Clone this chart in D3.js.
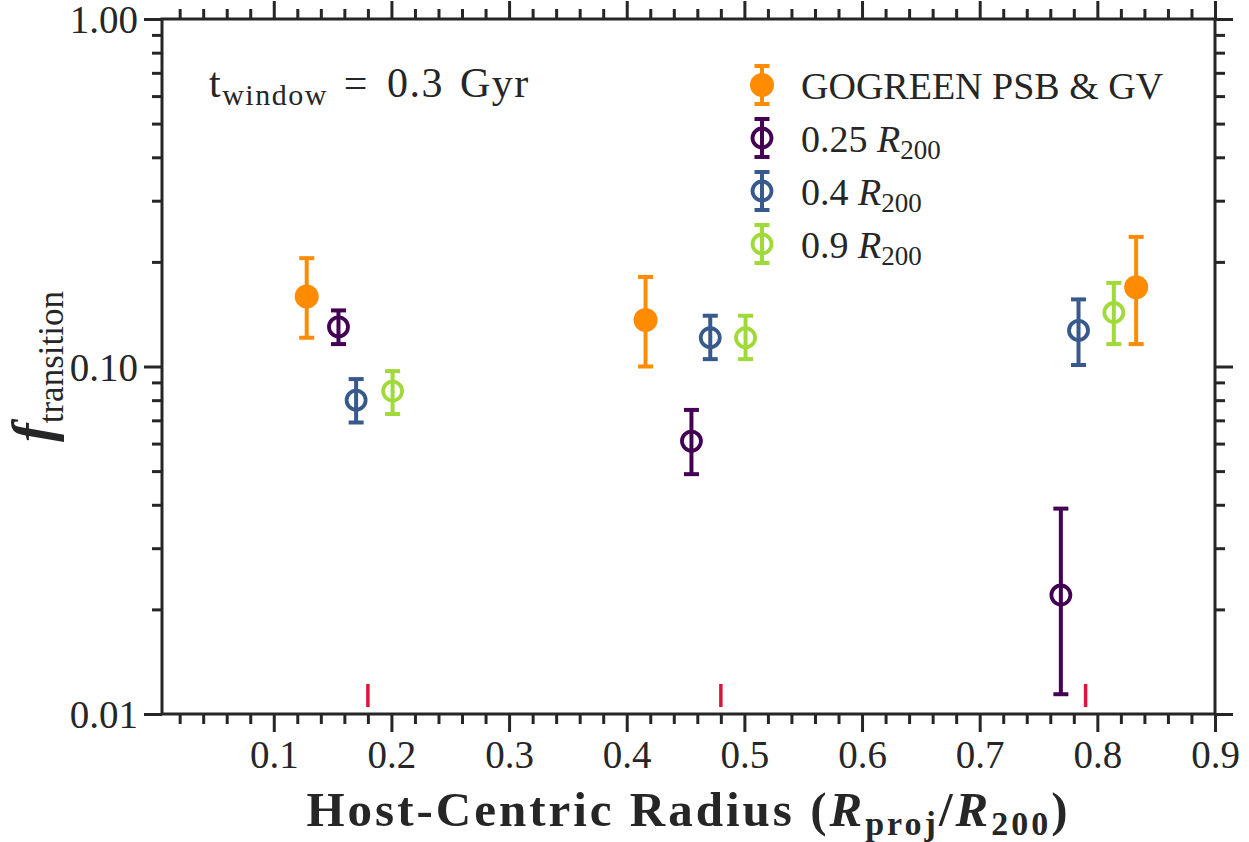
<!DOCTYPE html>
<html>
<head>
<meta charset="utf-8">
<script src="https://cdn.jsdelivr.net/npm/d3@7"></script>
</head>
<body style="margin:0">
<div id="chart"></div>
<script>
// séries: [x, y, erro inferior, erro superior]
const gogreen = [
  [0.128, 0.159, 0.121, 0.205],
  [0.416, 0.136, 0.100, 0.181],
  [0.833, 0.169, 0.116, 0.236]
];
const r025 = [
  [0.155, 0.130, 0.116, 0.145],
  [0.455, 0.061, 0.049, 0.075],
  [0.769, 0.022, 0.0114, 0.039]
];
const r04 = [
  [0.170, 0.080, 0.069, 0.092],
  [0.471, 0.121, 0.105, 0.140],
  [0.784, 0.127, 0.101, 0.156]
];
const r09 = [
  [0.201, 0.085, 0.073, 0.097],
  [0.501, 0.121, 0.105, 0.140],
  [0.814, 0.143, 0.116, 0.174]
];
const radialMarks = [0.18, 0.48, 0.79];
const xMajorTicks = [0.1, 0.2, 0.3, 0.4, 0.5, 0.6, 0.7, 0.8, 0.9];
const yMajorTicks = [0.01, 0.1, 1];
const legendLabels = ["GOGREEN PSB & GV", "0.25", "0.4", "0.9"];

const width = 1249, height = 842;
const margin = { top: 19, right: 34, bottom: 128, left: 162 };
const innerWidth = width - margin.left - margin.right;
const innerHeight = height - margin.top - margin.bottom;
const fontName = "Liberation Serif";
const ink = "#262626";

const svg = d3.select("#chart").append("svg")
  .attr("width", width)
  .attr("height", height);

const x = d3.scaleLinear().domain([0.005, 0.9]).range([margin.left, width - margin.right]);
const y = d3.scaleLog().domain([0.01, 1]).range([height - margin.bottom, margin.top]);

// ticks menores de 0.02 em 0.02, sem os maiores
const xMinor = d3.range(1, 45).map(i => i * 0.02).filter(v => v < 0.9 && Math.round(v * 100) % 10 !== 0);
const yMinor = [];
[0.01, 0.1].forEach(d => { for (let k = 2; k <= 9; k++) yMinor.push(d * k); });

function setFont(sel, size) {
  return sel.attr("fill", ink).style("font-family", () => `"${fontName}"`).style("font-size", size + "px");
}
function styleAxis(g) {
  g.select(".domain").remove();
  g.selectAll("line").attr("stroke", ink).attr("stroke-width", 3);
}
function noText(g) { g.selectAll("text").remove(); }

// ticks menores
svg.append("g").attr("transform", `translate(0,${height - margin.bottom})`)
  .call(d3.axisBottom(x).tickValues(xMinor).tickSize(10)).call(styleAxis).call(noText);
svg.append("g").attr("transform", `translate(0,${margin.top})`)
  .call(d3.axisTop(x).tickValues(xMinor).tickSize(10)).call(styleAxis).call(noText);
svg.append("g").attr("transform", `translate(${margin.left},0)`)
  .call(d3.axisLeft(y).tickValues(yMinor).tickSize(10)).call(styleAxis).call(noText);
svg.append("g").attr("transform", `translate(${width - margin.right},0)`)
  .call(d3.axisRight(y).tickValues(yMinor).tickSize(10)).call(styleAxis).call(noText);

// ticks maiores
const xAxisG = svg.append("g").attr("transform", `translate(0,${height - margin.bottom})`)
  .call(d3.axisBottom(x).tickValues(xMajorTicks).tickSize(18).tickPadding(8).tickFormat(d3.format(".1f")))
  .call(styleAxis);
xAxisG.attr("font-family", null);
setFont(xAxisG.selectAll("text"), 39).attr("dy", "0.72em");

svg.append("g").attr("transform", `translate(0,${margin.top})`)
  .call(d3.axisTop(x).tickValues(xMajorTicks).tickSize(18)).call(styleAxis).call(noText);

const yAxisG = svg.append("g").attr("transform", `translate(${margin.left},0)`)
  .call(d3.axisLeft(y).tickValues(yMajorTicks).tickSize(18).tickPadding(6).tickFormat(d3.format(".2f")))
  .call(styleAxis);
yAxisG.attr("font-family", null);
setFont(yAxisG.selectAll("text"), 39).attr("dy", "0.35em");

svg.append("g").attr("transform", `translate(${width - margin.right},0)`)
  .call(d3.axisRight(y).tickValues(yMajorTicks).tickSize(18)).call(styleAxis).call(noText);

// moldura
svg.append("rect")
  .attr("x", margin.left).attr("y", margin.top)
  .attr("width", innerWidth).attr("height", innerHeight)
  .attr("fill", "none").attr("stroke", ink).attr("stroke-width", 3);

// marcas vermelhas junto ao eixo
svg.selectAll(".rmark").data(radialMarks).enter().append("line")
  .attr("x1", d => x(d)).attr("x2", d => x(d))
  .attr("y1", height - margin.bottom - 7).attr("y2", height - margin.bottom - 30)
  .attr("stroke", "#dc143c").attr("stroke-width", 3.5);

const series = [
  { data: gogreen, color: "#ff8c00", filled: true },
  { data: r025, color: "#440154", filled: false },
  { data: r04, color: "#38598c", filled: false },
  { data: r09, color: "#a0da39", filled: false }
];

function drawErr(g, cx, cy0, cy1, color) {
  g.append("line").attr("x1", cx).attr("x2", cx).attr("y1", cy0).attr("y2", cy1)
    .attr("stroke", color).attr("stroke-width", 4);
  [cy0, cy1].forEach(cy => g.append("line")
    .attr("x1", cx - 7.5).attr("x2", cx + 7.5).attr("y1", cy).attr("y2", cy)
    .attr("stroke", color).attr("stroke-width", 4));
}
function drawMarker(g, cx, cy, s) {
  if (s.filled) {
    g.append("circle").attr("cx", cx).attr("cy", cy).attr("r", 12).attr("fill", s.color);
  } else {
    g.append("circle").attr("cx", cx).attr("cy", cy).attr("r", 9.5)
      .attr("fill", "none").attr("stroke", s.color).attr("stroke-width", 3.8);
  }
}

series.forEach(s => {
  const g = svg.append("g");
  s.data.forEach(d => {
    drawErr(g, x(d[0]), y(d[2]), y(d[3]), s.color);
    drawMarker(g, x(d[0]), y(d[1]), s);
  });
});

// legenda
const legend = svg.append("g");
series.forEach((s, i) => {
  const cy = 85 + i * 53;
  const g = legend.append("g");
  drawErr(g, 762, cy - 19, cy + 19, s.color);
  drawMarker(g, 762, cy, s);
  const t = setFont(g.append("text").attr("x", 801).attr("y", cy + 14), 38);
  if (i === 0) {
    t.text(legendLabels[i]);
  } else {
    t.append("tspan").text(legendLabels[i] + " ");
    t.append("tspan").style("font-style", "italic").text("R");
    t.append("tspan").attr("dy", 7).style("font-size", "27px").text("200");
  }
});

// anotação
const ann = setFont(svg.append("text").attr("x", 209).attr("y", 97), 42)
  .style("letter-spacing", "1.5px");
ann.append("tspan").text("t");
ann.append("tspan").attr("dy", 8).style("font-size", "30px").text("window");
ann.append("tspan").attr("dy", -8).attr("dx", 16).text("=");
ann.append("tspan").attr("dx", 18).text("0.3");
ann.append("tspan").attr("dx", 16).text("Gyr");

// rótulo do eixo x
const xl = setFont(svg.append("text")
  .attr("x", margin.left + innerWidth / 2).attr("y", 826)
  .attr("text-anchor", "middle"), 49)
  .style("font-weight", "bold").style("letter-spacing", "3px");
xl.append("tspan").text("Host-Centric Radius (");
xl.append("tspan").style("font-style", "italic").text("R");
xl.append("tspan").attr("dy", 9).style("font-size", "34px").text("proj");
xl.append("tspan").attr("dy", -9).text("/");
xl.append("tspan").style("font-style", "italic").text("R");
xl.append("tspan").attr("dy", 9).style("font-size", "34px").text("200");
xl.append("tspan").attr("dy", -9).text(")");

// rótulo do eixo y
const yl = setFont(svg.append("text")
  .attr("transform", `translate(52,${margin.top + innerHeight / 2}) rotate(-90)`)
  .attr("text-anchor", "middle"), 56);
yl.append("tspan").style("font-style", "italic").style("font-weight", "bold").text("f");
yl.append("tspan").attr("dy", 11).style("font-size", "35px").text("transition");
</script>
</body>
</html>
